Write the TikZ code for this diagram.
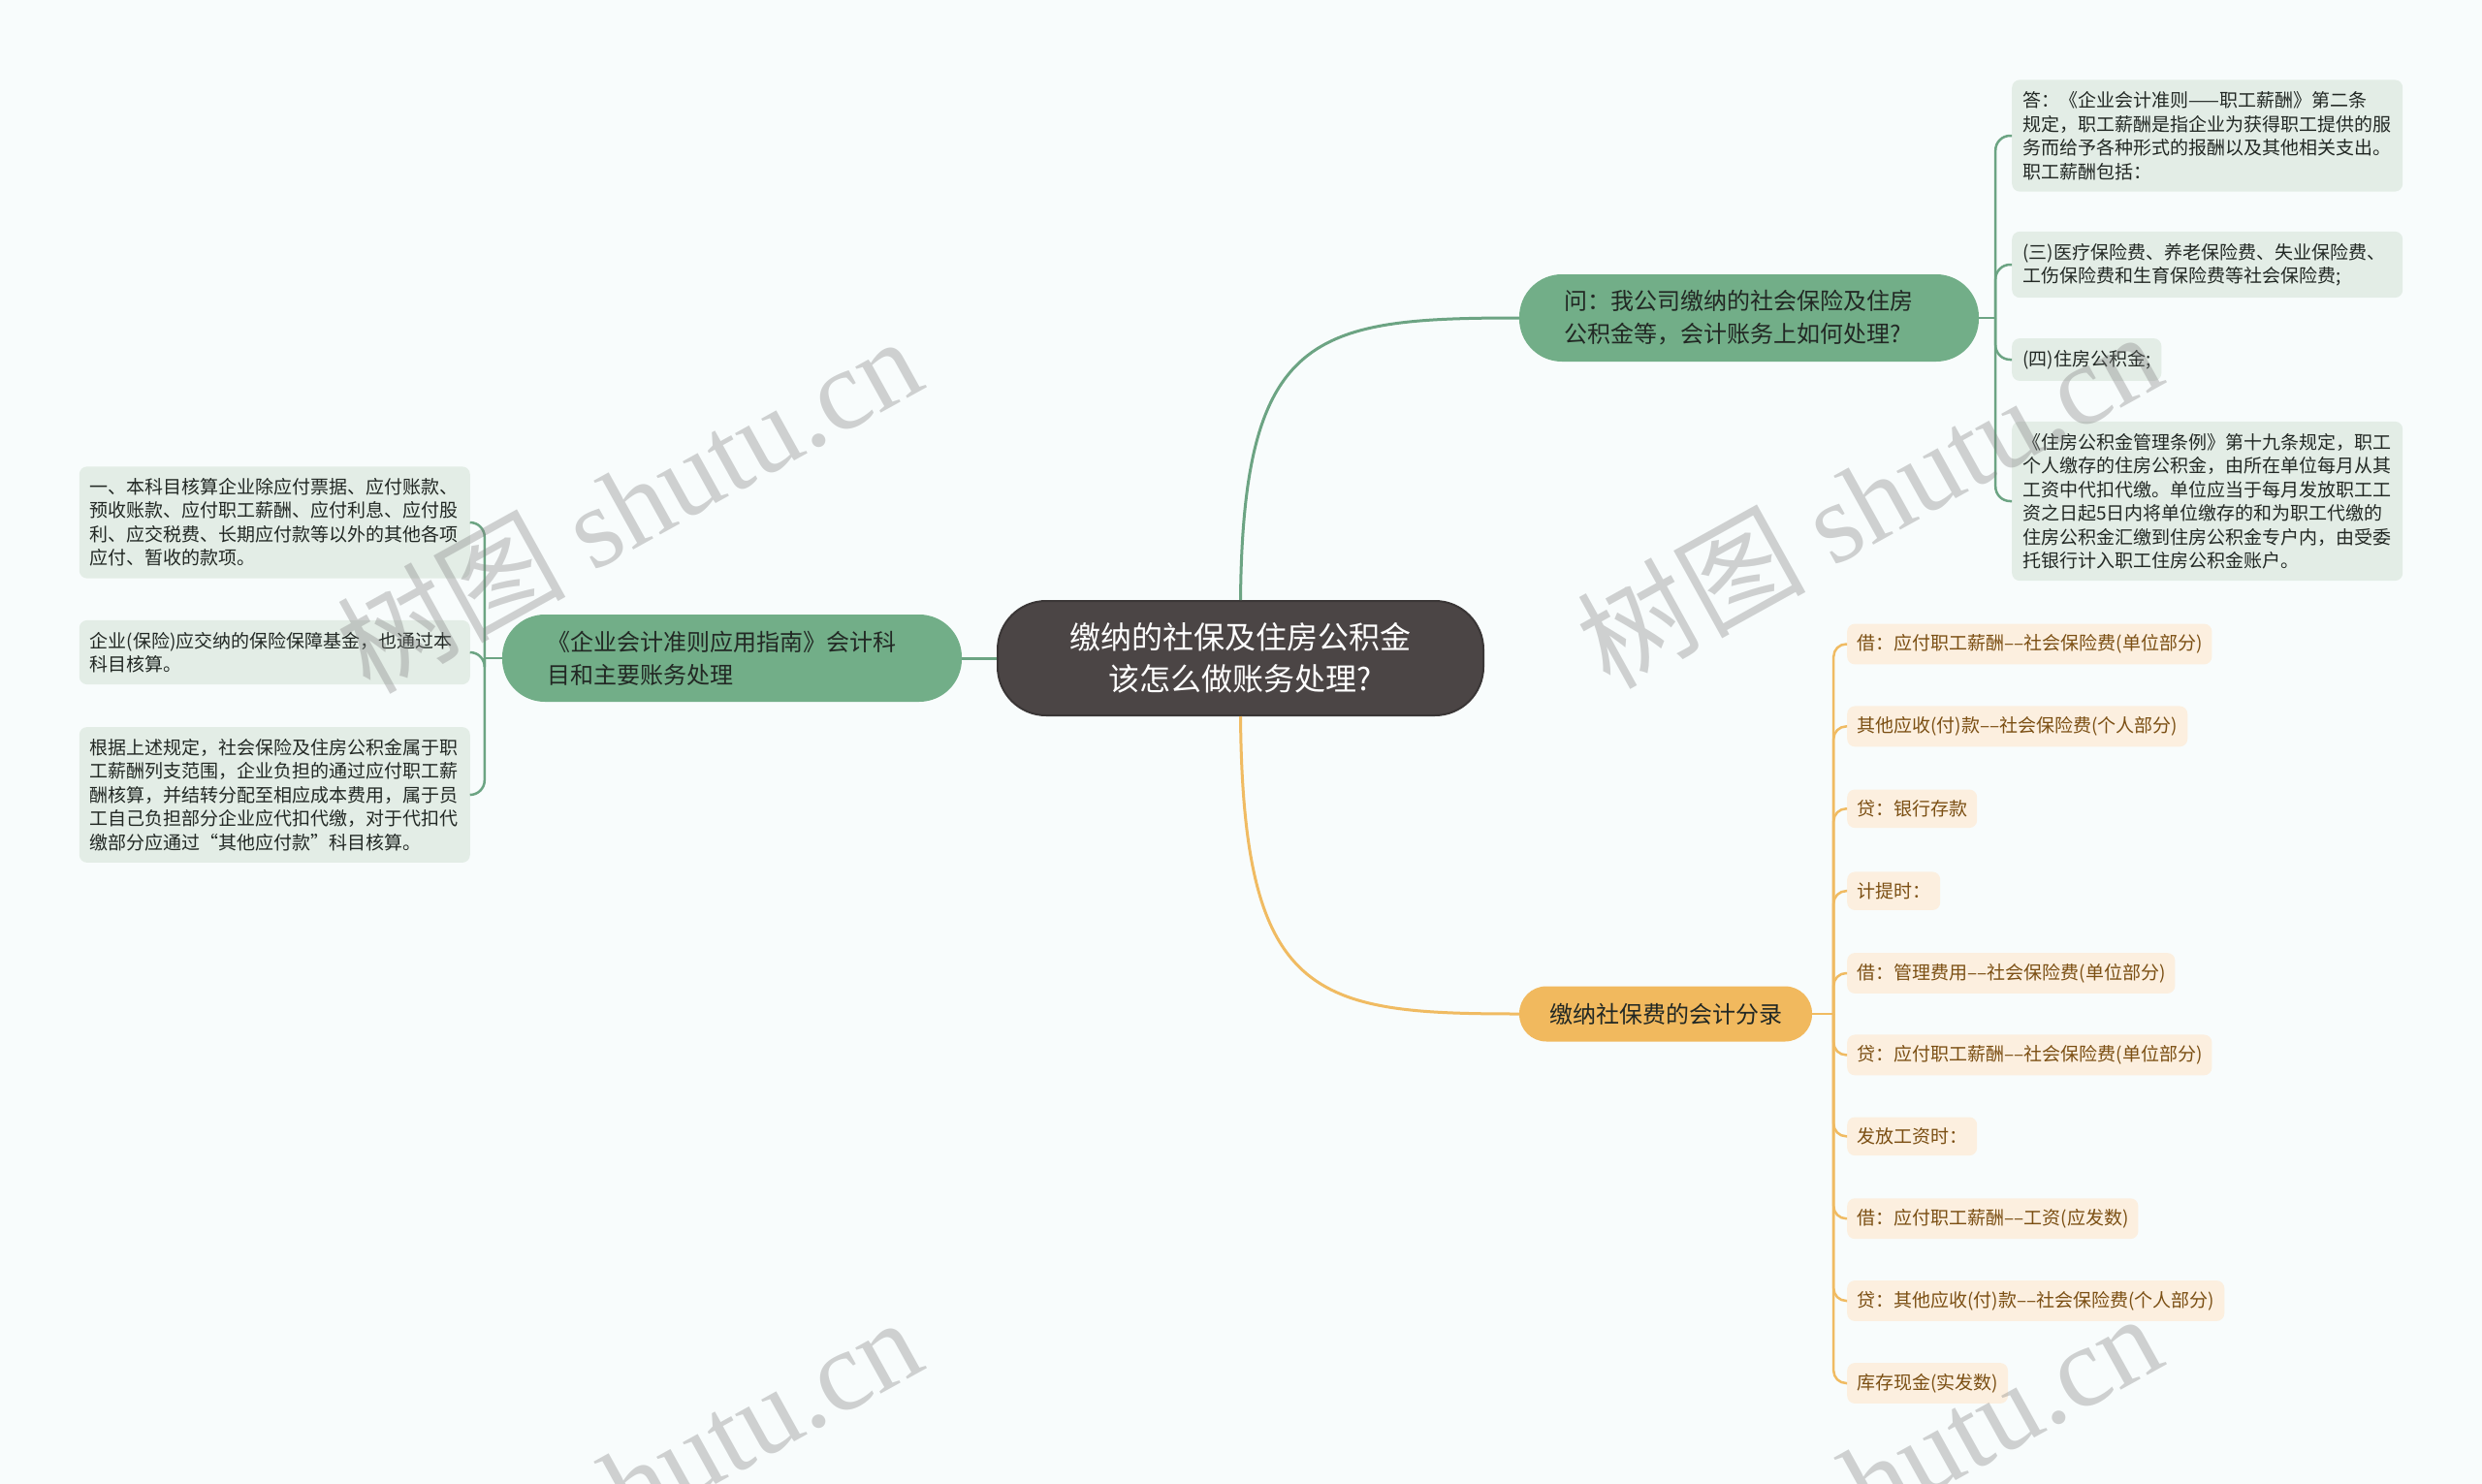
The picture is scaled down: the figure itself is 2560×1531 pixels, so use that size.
\documentclass[tikz,border=0pt]{standalone}
\usepackage{fontspec}
\setmainfont{Noto Sans CJK SC}
\newfontfamily\wmfont{Liberation Serif}
\usepackage{tikz}
\definecolor{bgc}{RGB}{248,252,252}
\definecolor{rootfill}{RGB}{75,69,69}
\definecolor{rootline}{RGB}{58,54,54}
\definecolor{gmain}{RGB}{114,174,136}
\definecolor{gline}{RGB}{108,164,131}
\definecolor{gleaf}{RGB}{227,237,230}
\definecolor{omain}{RGB}{241,185,94}
\definecolor{oline}{RGB}{240,187,98}
\definecolor{oleaf}{RGB}{252,239,223}
\definecolor{otext}{RGB}{123,79,19}
\definecolor{dtext}{RGB}{34,40,36}
\tikzset{
  rootbox/.style={rounded corners=50pt, fill=rootfill, draw=rootline, line width=2pt,
    minimum width=501pt, minimum height=118pt, text=white, align=center,
    font=\fontsize{32}{42.5}\selectfont},
  gmainbox/.style={rounded corners=44pt, fill=gmain, minimum height=90pt,
    text width=382pt, align=left, text=dtext, inner xsep=46pt,
    font=\fontsize{24}{34}\selectfont},
  omainbox/.style={rounded corners=28pt, fill=omain, minimum width=302pt,
    minimum height=57pt, text=dtext, font=\fontsize{24}{34}\selectfont},
  gleafbox/.style={rounded corners=8pt, fill=gleaf, text=dtext, align=left,
    inner xsep=11pt, inner ysep=12pt, font=\fontsize{19}{24.5}\selectfont},
  oleafbox/.style={rounded corners=8pt, fill=oleaf, text=otext, anchor=west,
    inner xsep=10pt, inner ysep=11pt, font=\fontsize{19}{24.5}\selectfont},
  gbranch/.style={draw=gline, line width=3pt},
  obranch/.style={draw=oline, line width=3pt},
  gbrace/.style={draw=gline, line width=2.5pt, rounded corners=15pt},
  obrace/.style={draw=oline, line width=2.5pt, rounded corners=13pt},
  wmark/.style={text=gray, opacity=0.35, font=\fontsize{118}{118}\selectfont, rotate=29}
}
\begin{document}
\begin{tikzpicture}[x=1pt,y=-1pt]
\useasboundingbox (0,0) rectangle (2560,1531);
\fill[bgc] (0,0) rectangle (2560,1531);

% centre and first level
\node[rootbox] (root) at (1279.5,679) {缴纳的社保及住房公积金\\该怎么做账务处理?};
\node[gmainbox] (qa) at (1804,328) {问：我公司缴纳的社会保险及住房\\公积金等，会计账务上如何处理?};
\node[gmainbox] (guide) at (755,679) {《企业会计准则应用指南》会计科\\目和主要账务处理};
\node[omainbox] (entry) at (1718,1046) {缴纳社保费的会计分录};

% answer leaves
\node[gleafbox, anchor=west, text width=381pt] (ans1) at (2075,140) {答：《企业会计准则——职工薪酬》第二条\\规定，职工薪酬是指企业为获得职工提供的服\\务而给予各种形式的报酬以及其他相关支出。\\职工薪酬包括：};
\node[gleafbox, anchor=west, text width=381pt] (ans2) at (2075,273) {(三)医疗保险费、养老保险费、失业保险费、\\工伤保险费和生育保险费等社会保险费;};
\node[gleafbox, anchor=west] (ans3) at (2075,371) {(四)住房公积金;};
\node[gleafbox, anchor=west, text width=381pt] (ans4) at (2075,517) {《住房公积金管理条例》第十九条规定，职工\\个人缴存的住房公积金，由所在单位每月从其\\工资中代扣代缴。单位应当于每月发放职工工\\资之日起5日内将单位缴存的和为职工代缴的\\住房公积金汇缴到住房公积金专户内，由受委\\托银行计入职工住房公积金账户。};

% guide leaves
\node[gleafbox, anchor=east, text width=381pt] (rule1) at (485,539) {一、本科目核算企业除应付票据、应付账款、\\预收账款、应付职工薪酬、应付利息、应付股\\利、应交税费、长期应付款等以外的其他各项\\应付、暂收的款项。};
\node[gleafbox, anchor=east, text width=381pt] (rule2) at (485,673) {企业(保险)应交纳的保险保障基金，也通过本\\科目核算。};
\node[gleafbox, anchor=east, text width=381pt] (rule3) at (485,820) {根据上述规定，社会保险及住房公积金属于职\\工薪酬列支范围，企业负担的通过应付职工薪\\酬核算，并结转分配至相应成本费用，属于员\\工自己负担部分企业应代扣代缴，对于代扣代\\缴部分应通过“其他应付款”科目核算。};

% entry leaves
\node[oleafbox] (e1) at (1905,664.5) {借：应付职工薪酬––社会保险费(单位部分)};
\node[oleafbox] (e2) at (1905,749.4) {其他应收(付)款––社会保险费(个人部分)};
\node[oleafbox] (e3) at (1905,834.3) {贷：银行存款};
\node[oleafbox] (e4) at (1905,919.2) {计提时：};
\node[oleafbox] (e5) at (1905,1004) {借：管理费用––社会保险费(单位部分)};
\node[oleafbox] (e6) at (1905,1088.4) {贷：应付职工薪酬––社会保险费(单位部分)};
\node[oleafbox] (e7) at (1905,1172.3) {发放工资时：};
\node[oleafbox] (e8) at (1905,1257.2) {借：应付职工薪酬––工资(应发数)};
\node[oleafbox] (e9) at (1905,1342) {贷：其他应收(付)款––社会保险费(个人部分)};
\node[oleafbox] (e10) at (1905,1427) {库存现金(实发数)};

% connectors from the centre
\draw[gbranch] (root.north) .. controls (1282,343) and (1355,328) .. (qa.west);
\draw[obranch] (root.south) .. controls (1282,1031) and (1355,1046) .. (entry.west);
\draw[gbranch] (root.west) -- (guide.east);

% braces
\draw[gbrace] (qa.east) -- ++(17,0) coordinate (qt);
\draw[gbrace] (qt) |- (ans1.west);
\draw[gbrace] (qt) |- (ans2.west);
\draw[gbrace] (qt) |- (ans3.west);
\draw[gbrace] (qt) |- (ans4.west);

\draw[gbrace] (guide.west) -- ++(-18,0) coordinate (gt);
\draw[gbrace] (gt) |- (rule1.east);
\draw[gbrace] (gt) |- (rule2.east);
\draw[gbrace] (gt) |- (rule3.east);

\draw[obrace] (entry.east) -- ++(22,0) coordinate (et);
\draw[obrace] (et) |- (e1.west);
\draw[obrace] (et) |- (e2.west);
\draw[obrace] (et) |- (e3.west);
\draw[obrace] (et) |- (e4.west);
\draw[obrace] (et) |- (e5.west);
\draw[obrace] (et) |- (e6.west);
\draw[obrace] (et) |- (e7.west);
\draw[obrace] (et) |- (e8.west);
\draw[obrace] (et) |- (e9.west);
\draw[obrace] (et) |- (e10.west);

% watermarks
\begin{scope}
\clip (0,0) rectangle (2560,1531);
\node[wmark] (wm1) at (648,519) {树图 {\wmfont shutu.cn}};
\node[wmark] (wm2) at (1927,514) {树图 {\wmfont shutu.cn}};
\node[wmark] (wm3) at (648,1531) {树图 {\wmfont shutu.cn}};
\node[wmark] (wm4) at (1927,1527) {树图 {\wmfont shutu.cn}};
\end{scope}
\end{tikzpicture}
\end{document}
